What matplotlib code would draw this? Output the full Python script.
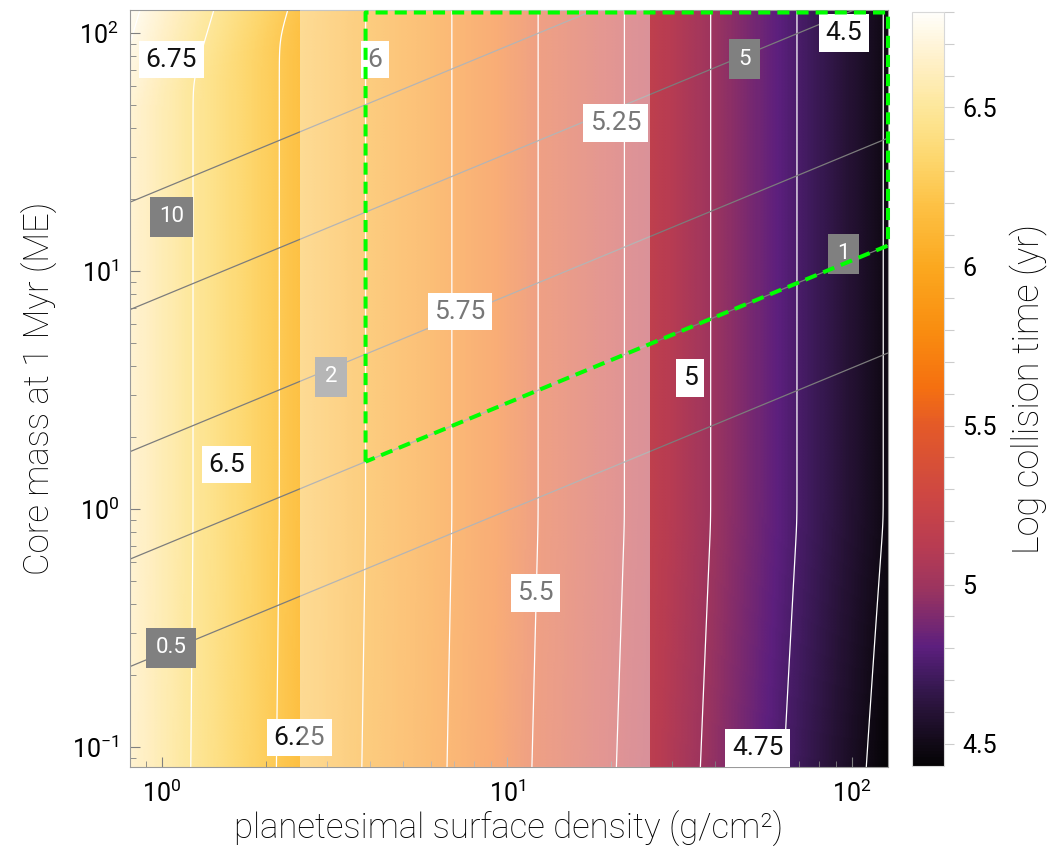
import numpy as np
import matplotlib
matplotlib.use("Agg")
import matplotlib.pyplot as plt
from matplotlib.colors import LinearSegmentedColormap, Normalize
from matplotlib.cm import ScalarMappable
from matplotlib.ticker import FixedLocator, LogLocator, MultipleLocator, NullFormatter

plt.rcParams['font.family'] = ['Roboto', 'DejaVu Sans']
plt.rcParams['font.weight'] = 'normal'
plt.rcParams['mathtext.fontset'] = 'custom'
plt.rcParams['mathtext.rm'] = 'Roboto'
plt.rcParams['mathtext.default'] = 'regular'

# ---- plotted ranges ----------------------------------------------------
SIGMA_LIMITS = (0.808, 127.0)      # planetesimal surface density, g/cm^2
MCORE_LIMITS = (0.0824, 125.0)     # core mass at 1 Myr, Earth masses
CBAR_LIMITS = (4.43, 6.80)         # log collision time, yr

# ---- collision-time model ------------------------------------------------
LOGT_AT_SIGMA1 = 6.59              # log t at Sigma = 1 g/cm^2
HIGH_MASS_SLOPE = 0.24             # d log t / d log M above the knee
HIGH_MASS_KNEE = (1.74, 0.70)      # knee: log M = a + b log Sigma
LOW_MASS_SLOPE = 0.05              # d log t / d log M below the knee (at Sigma ref)
LOW_MASS_KNEE = -0.05              # log M of the low-mass knee
LOW_MASS_SIGMA_REF = 123.0
LOW_MASS_SIGMA_EXP = 0.45

# ---- mass-ratio model (gray contours) ----------------------------------
RATIO_MASS_SCALE = -0.155          # log M of ratio 1 at Sigma = 1
RATIO_SIGMA_EXP = 0.6
RATIO_EXP = 1.5

# ---- contour levels --------------------------------------------------------
TIME_LEVELS = [4.5, 4.75, 5.0, 5.25, 5.5, 5.75, 6.0, 6.25, 6.5, 6.75]
RATIO_LEVELS = [0.5, 1, 2, 5, 10]

# ---- highlighted region ------------------------------------------------
REGION_TIME_LEVEL = 6.0            # left boundary: log t = 6 contour
REGION_RATIO_LEVEL = 1             # lower boundary: ratio = 1 contour
REGION_TOP_MASS = 122.0

# ---- shaded band ---------------------------------------------------------
BAND_SIGMA = (2.51, 25.9)
BAND_ALPHA = 0.43

# ---- label anchor points (Sigma, M) ------------------------------------
TIME_LABEL_POS = {
    6.75: (1.065, 77.4), 6.5: (1.538, 1.538), 6.25: (2.503, 0.1096),
    6.0: (4.14, 77.4), 5.75: (7.31, 6.76), 5.5: (12.1, 0.444),
    5.25: (20.6, 41.9), 5.0: (33.9, 3.55), 4.75: (53.2, 0.099),
    4.5: (94.5, 100.0),
}
RATIO_LABEL_POS = {
    10: (1.065, 16.9), 5: (48.8, 77.8), 2: (3.09, 3.59),
    1: (94.5, 11.8), 0.5: (1.062, 0.261),
}

# ---- colour scale --------------------------------------------------------
CMAP_ANCHORS = [
    (4.43, '#050305'), (4.50, '#120a18'), (4.60, '#261236'),
    (4.70, '#3d1a5a'), (4.80, '#5c1f7e'), (4.98, '#9a3460'),
    (5.12, '#b83c52'), (5.27, '#cc4644'), (5.50, '#e45a28'),
    (5.62, '#f57010'), (5.80, '#f98d10'), (6.00, '#fba81f'),
    (6.20, '#fdc246'), (6.35, '#fdd870'), (6.50, '#fde79a'),
    (6.65, '#fff0c8'), (6.80, '#fffefa'),
]


def softplus(z, w=0.03):
    return w * np.log1p(np.exp(z / w))


def log_collision_time(sig, m):
    ls, lm = np.log10(sig), np.log10(m)
    hi = HIGH_MASS_SLOPE * softplus(lm - (HIGH_MASS_KNEE[0] + HIGH_MASS_KNEE[1] * ls))
    lo = LOW_MASS_SLOPE * (sig / LOW_MASS_SIGMA_REF) ** LOW_MASS_SIGMA_EXP \
        * softplus(LOW_MASS_KNEE - lm)
    return LOGT_AT_SIGMA1 - ls + hi - lo


def mass_ratio(sig, m):
    ls, lm = np.log10(sig), np.log10(m)
    return 10 ** ((lm - RATIO_SIGMA_EXP * ls - RATIO_MASS_SCALE) / RATIO_EXP)


vmin, vmax = CBAR_LIMITS
cmap = LinearSegmentedColormap.from_list(
    'sunset', [((v - vmin) / (vmax - vmin), c) for v, c in CMAP_ANCHORS])
norm = Normalize(vmin, vmax)

sig = np.geomspace(*SIGMA_LIMITS, 500)
mc = np.geomspace(*MCORE_LIMITS, 500)
S, M = np.meshgrid(sig, mc)
T = log_collision_time(S, M)
Q = mass_ratio(S, M)

fig = plt.figure(figsize=(10.63, 8.52), dpi=100)
ax = fig.add_axes([130 / 1063, 85 / 852, 758 / 1063, 757 / 852])
cax = fig.add_axes([912 / 1063, 86 / 852, 32 / 1063, 754 / 852])

ax.pcolormesh(S, M, T, cmap=cmap, norm=norm, shading='gouraud', zorder=0,
              rasterized=True)
ax.contour(S, M, T, levels=TIME_LEVELS, colors='white', linewidths=0.9, zorder=1)
ax.contour(S, M, Q, levels=RATIO_LEVELS, colors='#7c7c7c', linewidths=0.9, zorder=1)

ax.set_xscale('log')
ax.set_yscale('log')
ax.set_xlim(*SIGMA_LIMITS)
ax.set_ylim(*MCORE_LIMITS)


def fmt_level(v):
    return f'{v:g}'


for lev in TIME_LEVELS:
    x, y = TIME_LABEL_POS[lev]
    ax.text(x, y, fmt_level(lev), ha='center', va='center', fontsize=19,
            color='#111111', zorder=3,
            bbox=dict(boxstyle='square,pad=0.25', fc='white', ec='none'))
for lev in RATIO_LEVELS:
    x, y = RATIO_LABEL_POS[lev]
    ax.text(x, y, fmt_level(lev), ha='center', va='center', fontsize=16,
            color='white', zorder=3,
            bbox=dict(boxstyle='square,pad=0.42', fc='#808080', ec='none'))

# translucent band
ax.axvspan(*BAND_SIGMA, color='white', alpha=BAND_ALPHA, lw=0, zorder=4)

# highlighted region: log t < 6 and ratio > 1
s_left = 10 ** (LOGT_AT_SIGMA1 - REGION_TIME_LEVEL)
s_right = SIGMA_LIMITS[1]


def ratio_mass(s, q):
    return 10 ** (RATIO_EXP * np.log10(q) + RATIO_SIGMA_EXP * np.log10(s) + RATIO_MASS_SCALE)


px = [s_left, s_left, s_right, s_right, s_left]
py = [ratio_mass(s_left, REGION_RATIO_LEVEL), REGION_TOP_MASS, REGION_TOP_MASS,
      ratio_mass(s_right, REGION_RATIO_LEVEL), ratio_mass(s_left, REGION_RATIO_LEVEL)]
ax.plot(px, py, color='#00ff00', lw=2.9, dashes=(3.0, 1.75), zorder=5,
        clip_on=False, solid_capstyle='butt', dash_capstyle='butt')

# axes styling
for sp in ax.spines.values():
    sp.set_color('#9a9a9a')
    sp.set_linewidth(0.8)
ax.xaxis.set_major_locator(FixedLocator([1, 10, 100]))
ax.xaxis.set_minor_locator(LogLocator(base=10, subs=np.arange(2, 10)))
ax.xaxis.set_minor_formatter(NullFormatter())
ax.set_xticklabels([r'$10^{0}$', r'$10^{1}$', r'$10^{2}$'])
ax.yaxis.set_major_locator(FixedLocator([0.1, 1, 10, 100]))
ax.yaxis.set_minor_locator(LogLocator(base=10, subs=np.arange(2, 10)))
ax.yaxis.set_minor_formatter(NullFormatter())
ax.set_yticklabels([r'$10^{-1}$', r'$10^{0}$', r'$10^{1}$', r'$10^{2}$'])
ax.tick_params(which='both', direction='in', color='#808080', top=False, right=False,
               labelsize=18)
ax.tick_params(which='major', length=7, width=0.8)
ax.tick_params(which='minor', length=4, width=0.6)
ax.tick_params(axis='x', pad=9)
ax.tick_params(axis='y', pad=8)

ax.set_xlabel('planetesimal surface density (g/cm²)', fontsize=25, labelpad=3,
              fontweight='light', color='black')
ax.set_ylabel('Core mass at 1 Myr (ME)', fontsize=25, labelpad=10,
              fontweight='light', color='black')

# colour bar
cb = fig.colorbar(ScalarMappable(norm=norm, cmap=cmap), cax=cax)
cb.outline.set_edgecolor('#d8d8d8')
cb.outline.set_linewidth(0.8)
cb.set_ticks([4.5, 5.0, 5.5, 6.0, 6.5])
cb.set_ticklabels(['4.5', '5', '5.5', '6', '6.5'])
cax.yaxis.set_minor_locator(MultipleLocator(0.1))
cax.tick_params(which='both', direction='out', color='#cccccc', length=7, width=0.8,
                labelsize=18, pad=6)
cb.set_label('Log collision time (yr)', fontsize=26, labelpad=9, fontweight='light',
             color='black')

fig.savefig('out.png', dpi=100)
